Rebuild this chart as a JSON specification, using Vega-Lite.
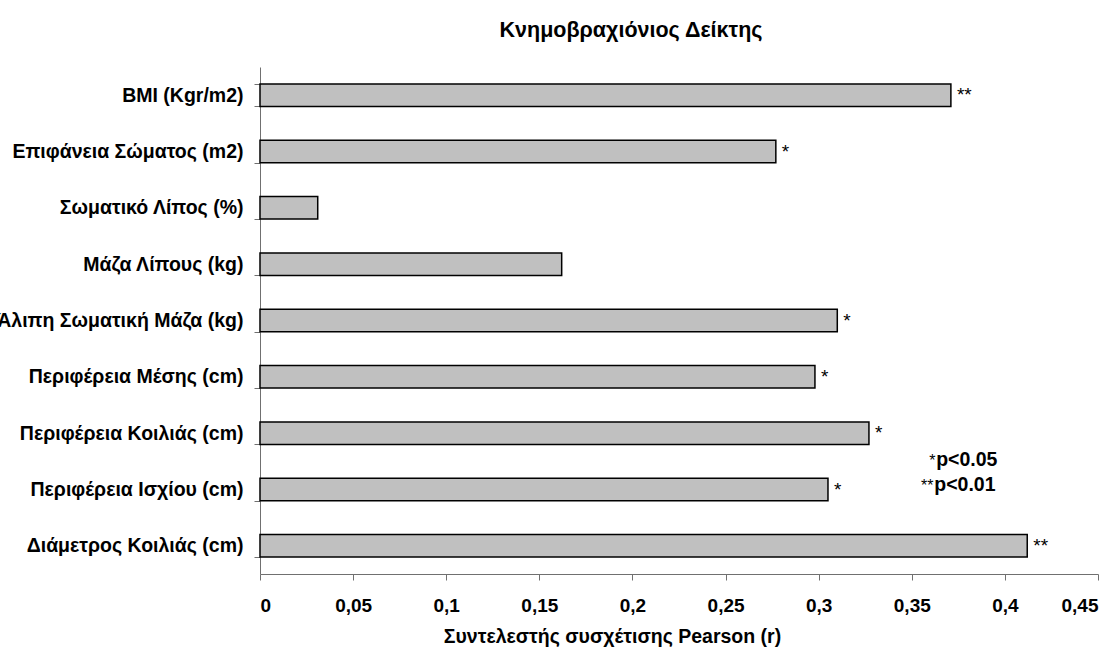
{
  "$schema": "https://vega.github.io/schema/vega-lite/v6.json",
  "width": 838,
  "height": 507,
  "autosize": {"type": "none"},
  "padding": {"left": 260, "top": 67, "right": 19, "bottom": 79},
  "background": "white",
  "title": {
    "text": "Κνημοβραχιόνιος Δείκτης",
    "font": "Liberation Sans",
    "fontSize": 21.5,
    "fontWeight": "bold",
    "color": "black",
    "anchor": "middle",
    "dx": -48,
    "offset": 16
  },
  "datasets": {
    "bars": [
      {"label": "BMI (Kgr/m2)", "r": 0.371, "sig": "**"},
      {"label": "Επιφάνεια Σώματος (m2)", "r": 0.277, "sig": "*"},
      {"label": "Σωματικό Λίπος (%)", "r": 0.031, "sig": ""},
      {"label": "Μάζα Λίπους (kg)", "r": 0.162, "sig": ""},
      {"label": "Άλιπη Σωματική Μάζα (kg)", "r": 0.31, "sig": "*"},
      {"label": "Περιφέρεια Μέσης (cm)", "r": 0.298, "sig": "*"},
      {"label": "Περιφέρεια Κοιλιάς (cm)", "r": 0.327, "sig": "*"},
      {"label": "Περιφέρεια Ισχίου (cm)", "r": 0.305, "sig": "*"},
      {"label": "Διάμετρος Κοιλιάς (cm)", "r": 0.412, "sig": "**"}
    ],
    "legendText": [
      {"label": "Περιφέρεια Ισχίου (cm)", "x": 0.396, "stars": "*", "text": "p<0.05", "row": 0},
      {"label": "Περιφέρεια Ισχίου (cm)", "x": 0.395, "stars": "**", "text": "p<0.01", "row": 1}
    ]
  },
  "encoding": {
    "y": {
      "field": "label",
      "type": "nominal",
      "sort": null,
      "scale": {
        "domain": [
          "BMI (Kgr/m2)",
          "Επιφάνεια Σώματος (m2)",
          "Σωματικό Λίπος (%)",
          "Μάζα Λίπους (kg)",
          "Άλιπη Σωματική Μάζα (kg)",
          "Περιφέρεια Μέσης (cm)",
          "Περιφέρεια Κοιλιάς (cm)",
          "Περιφέρεια Ισχίου (cm)",
          "Διάμετρος Κοιλιάς (cm)"
        ],
        "paddingInner": 0.6,
        "paddingOuter": 0.3
      },
      "axis": {
        "title": null,
        "tickBand": "extent",
        "tickSize": 6,
        "tickColor": "#707070",
        "domainColor": "#707070",
        "labelFont": "Liberation Sans",
        "labelFontSize": 19.5,
        "labelFontWeight": "bold",
        "labelColor": "black",
        "labelPadding": 11,
        "labelLimit": 0,
        "grid": false
      }
    }
  },
  "layer": [
    {
      "data": {"name": "bars"},
      "mark": {"type": "bar", "fill": "#c0c0c0", "stroke": "black", "strokeWidth": 1.5},
      "encoding": {
        "x": {
          "field": "r",
          "type": "quantitative",
          "scale": {"domain": [0, 0.45], "nice": false, "zero": true},
          "axis": {
            "values": [0, 0.05, 0.1, 0.15, 0.2, 0.25, 0.3, 0.35, 0.4, 0.45],
            "labelExpr": "replace(format(datum.value, '~g'), '.', ',')",
            "title": "Συντελεστής συσχέτισης Pearson (r)",
            "titleFont": "Liberation Sans",
            "titleFontSize": 19.5,
            "titleFontWeight": "bold",
            "titleColor": "black",
            "titleX": 352,
            "titleY": 62,
            "titleBaseline": "middle",
            "titleAnchor": "middle",
            "tickSize": 6,
            "tickColor": "#707070",
            "domainColor": "#707070",
            "labelFont": "Liberation Sans",
            "labelFontSize": 19,
            "labelFontWeight": "bold",
            "labelColor": "black",
            "labelPadding": 16,
            "grid": false
          }
        }
      }
    },
    {
      "data": {"name": "bars"},
      "mark": {"type": "text", "align": "left", "baseline": "alphabetic", "dx": 6, "dy": 6, "font": "Liberation Sans", "fontSize": 19, "color": "black"},
      "encoding": {
        "x": {"field": "r", "type": "quantitative"},
        "text": {"field": "sig"}
      }
    },
    {
      "data": {"name": "legendText"},
      "transform": [{"filter": "datum.row == 0"}],
      "mark": {"type": "text", "align": "right", "baseline": "alphabetic", "dy": -24, "font": "Liberation Sans", "fontSize": 19.5, "fontWeight": "bold", "color": "black"},
      "encoding": {
        "x": {"field": "x", "type": "quantitative"},
        "text": {"field": "text"}
      }
    },
    {
      "data": {"name": "legendText"},
      "transform": [{"filter": "datum.row == 0"}],
      "mark": {"type": "text", "align": "right", "baseline": "alphabetic", "dy": -24, "dx": -62, "font": "Liberation Sans", "fontSize": 16, "color": "black"},
      "encoding": {
        "x": {"field": "x", "type": "quantitative"},
        "text": {"field": "stars"}
      }
    },
    {
      "data": {"name": "legendText"},
      "transform": [{"filter": "datum.row == 1"}],
      "mark": {"type": "text", "align": "right", "baseline": "alphabetic", "dy": 1, "font": "Liberation Sans", "fontSize": 19.5, "fontWeight": "bold", "color": "black"},
      "encoding": {
        "x": {"field": "x", "type": "quantitative"},
        "text": {"field": "text"}
      }
    },
    {
      "data": {"name": "legendText"},
      "transform": [{"filter": "datum.row == 1"}],
      "mark": {"type": "text", "align": "right", "baseline": "alphabetic", "dy": 1, "dx": -62, "font": "Liberation Sans", "fontSize": 16, "color": "black"},
      "encoding": {
        "x": {"field": "x", "type": "quantitative"},
        "text": {"field": "stars"}
      }
    }
  ],
  "config": {
    "view": {"stroke": null}
  }
}
